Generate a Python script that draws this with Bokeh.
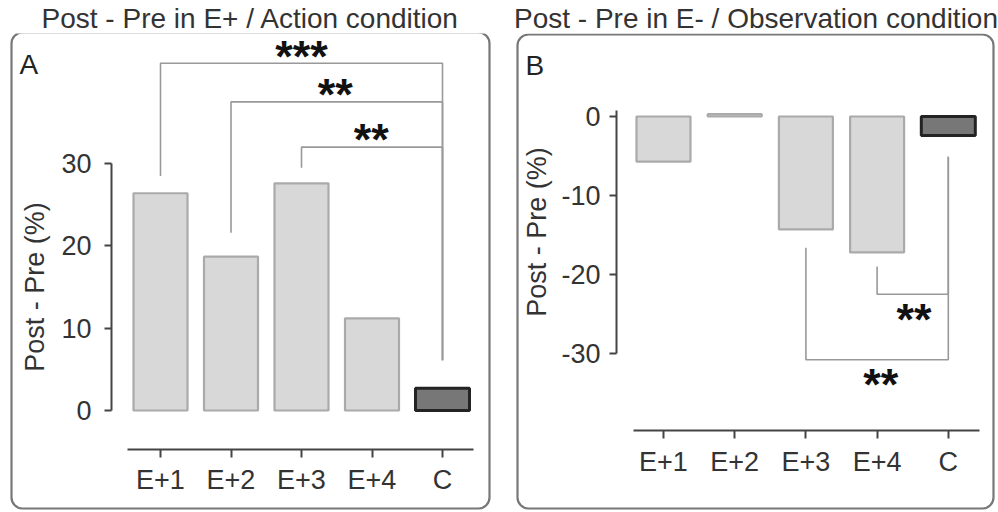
from bokeh.plotting import figure
from bokeh.models import LinearAxis, FixedTicker, BoxAnnotation, Range1d, ColumnDataSource
from bokeh.layouts import row
from bokeh.embed import file_html
from bokeh.resources import INLINE
from bokeh.core.properties import value

# ---------------- data ----------------
categories = ["E+1", "E+2", "E+3", "E+4", "C"]
values_a = [26.4, 18.7, 27.6, 11.2, 2.7]
values_b = [-5.7, 0.3, -14.3, -17.2, -2.4]
yticks_a = [0, 10, 20, 30]
ytick_labels_a = ["0", "10", "20", "30"]
yticks_b = [0, -10, -20, -30]
ytick_labels_b = ["0", "-10", "-20", "-30"]
title_a = "Post - Pre in E+ / Action condition"
title_b = "Post - Pre in E- / Observation condition"
ylabel = "Post - Pre (%)"
panel_letters = ["A", "B"]

# significance brackets (left category joined to "C")
brk_a_from = ["E+1", "E+2", "E+3"]
brk_a_level = [42.2, 37.5, 32.0]
brk_a_leg = [28.5, 21.6, 29.5]
brk_a_cleg = [6.1, 6.1, 6.1]
stars_a = ["***", "**", "**"]
stars_a_x = [2.0, 2.48, 2.99]
stars_a_y = [43.7, 39.1, 33.7]

brk_b_from = ["E+4", "E+3"]
brk_b_level = [-22.5, -30.8]
brk_b_leg = [-19.0, -16.6]
brk_b_cleg = [-5.1, -5.1]
stars_b = ["**", "**"]
stars_b_x = [3.52, 3.05]
stars_b_y = [-24.9, -33.2]

FONT = "Liberation Sans"
LIGHT_FILL, LIGHT_LINE = "#d8d8d8", "#aaaaaa"
DARK_FILL, DARK_LINE = "#777777", "#232323"
AXIS_COL = "#444444"
BRK_COL = "#999999"
TXT = "#222222"


def make_panel(fig_left, x0, dx, y0, dy, frame, box, vals, yticks, ytick_labels, ybounds,
               yaxis_px, xaxis_px, xbounds_px, title, letter, letter_px, brk_from,
               brk_level, brk_leg, brk_cleg, stars, sx, sy, tick_standoff,
               label_standoff, title_offset):
    # all pixel positions are given in page (global) coordinates
    fl, fr, ft, fb = frame
    W, H = 499, 512
    px2x = lambda px: (px - x0) / dx
    px2y = lambda py: (y0 - py) / dy

    p = figure(width=W, height=H, output_backend="svg", toolbar_location=None,
               x_axis_type=None, y_axis_type=None,
               x_range=Range1d(px2x(fl), px2x(fr)), y_range=Range1d(px2y(fb), px2y(ft)),
               min_border_left=fl - fig_left, min_border_right=fig_left + W - fr,
               min_border_top=ft, min_border_bottom=H - fb)
    p.outline_line_color = None
    p.grid.visible = False
    p.background_fill_color = "white"
    p.border_fill_color = "white"

    p.title.text = title
    p.title.text_font = FONT
    p.title.text_font_size = "28px"
    p.title.text_font_style = "normal"
    p.title.text_color = "#333333"
    p.title.align = "center"
    p.title.standoff = 0
    p.title.offset = title_offset

    # rounded panel box
    p.add_layout(BoxAnnotation(left=px2x(box[0]), right=px2x(box[1]),
                               top=px2y(box[2]), bottom=px2y(box[3]),
                               fill_color=None, fill_alpha=0,
                               line_color="#777777", line_alpha=1.0, line_width=2.2,
                               border_radius=11, level="overlay"))

    xs = list(range(len(categories)))
    fills = [LIGHT_FILL] * (len(categories) - 1) + [DARK_FILL]
    lines = [LIGHT_LINE] * (len(categories) - 1) + [DARK_LINE]
    lws = [2.2] * (len(categories) - 1) + [3]
    src = ColumnDataSource(dict(x=xs, top=vals, fill=fills, line=lines, lw=lws))
    p.vbar(x="x", top="top", bottom=0, width=54 / dx, source=src,
           fill_color="fill", line_color="line", line_width="lw")

    # brackets
    ci = categories.index("C")
    mx, my = [], []
    for f, lev, leg, cleg in zip(brk_from, brk_level, brk_leg, brk_cleg):
        i = categories.index(f)
        mx.append([i, i, ci, ci])
        my.append([leg, lev, lev, cleg])
    p.multi_line(xs=mx, ys=my, line_color=BRK_COL, line_width=1.6)
    p.text(x=sx, y=sy, text=stars, text_font=value(FONT), text_font_size="45px",
           text_font_style="bold", text_align="center", text_baseline="middle",
           text_color="#111111", y_offset=6)

    # panel letter
    p.text(x=[px2x(letter_px[0])], y=[px2y(letter_px[1])], text=[letter],
           text_font=value(FONT), text_font_size="28px", text_align="left",
           text_baseline="top", text_color=TXT)

    # axes
    yax = LinearAxis(fixed_location=px2x(yaxis_px), bounds=ybounds,
                     ticker=FixedTicker(ticks=yticks), axis_label=ylabel,
                     major_label_overrides={t: l for t, l in zip(yticks, ytick_labels)})
    xax = LinearAxis(fixed_location=px2y(xaxis_px),
                     bounds=(px2x(xbounds_px[0]), px2x(xbounds_px[1])),
                     ticker=FixedTicker(ticks=xs),
                     major_label_overrides={i: c for i, c in enumerate(categories)})
    for ax in (yax, xax):
        ax.axis_line_color = AXIS_COL
        ax.axis_line_width = 2
        ax.major_tick_line_color = AXIS_COL
        ax.major_tick_line_width = 2
        ax.major_tick_in = 0
        ax.major_tick_out = 8
        ax.minor_tick_line_color = None
        ax.major_label_text_font = FONT
        ax.major_label_text_font_size = "27px"
        ax.major_label_text_color = "#333333"
    yax.major_tick_out = 7
    yax.major_label_standoff = tick_standoff[0]
    xax.major_label_standoff = tick_standoff[1]
    yax.axis_label_text_font = FONT
    yax.axis_label_text_font_size = "27px"
    yax.axis_label_text_font_style = "normal"
    yax.axis_label_text_color = "#333333"
    yax.axis_label_standoff = label_standoff
    p.add_layout(yax, "left")
    p.add_layout(xax, "below")
    return p


pa = make_panel(0, 160, 70.5, 410, 8.23, (9, 491, 33, 511), (11, 489, 32, 508),
                values_a, yticks_a, ytick_labels_a, (0, 30), 111, 449, (127, 473),
                title_a, panel_letters[0], (19, 48),
                brk_a_from, brk_a_level, brk_a_leg, brk_a_cleg,
                stars_a, stars_a_x, stars_a_y, (13, 7), 8, 0)

pb = make_panel(499, 663, 71.2, 116, 7.9, (515, 996, 33, 511), (517, 993, 34, 508),
                values_b, yticks_b, ytick_labels_b, (-30, 0.75), 616, 430, (633, 979),
                title_b, panel_letters[1], (525, 49),
                brk_b_from, brk_b_level, brk_b_leg, brk_b_cleg,
                stars_b, stars_b_x, stars_b_y, (9, 8), 6, 7)

layout = row(pa, pb, spacing=0)
open("out.html", "w").write(file_html(layout, INLINE))
